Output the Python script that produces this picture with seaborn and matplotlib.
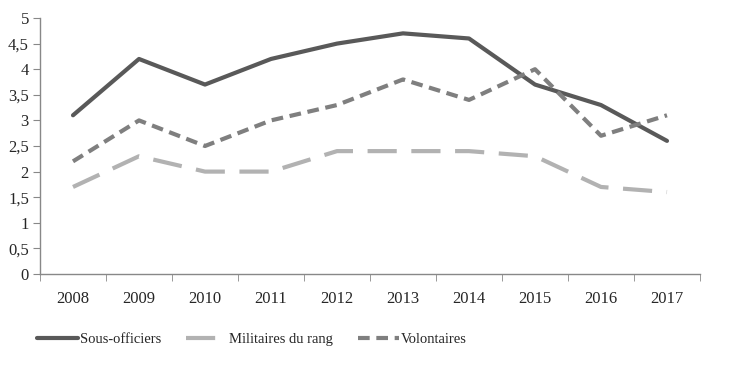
import seaborn as sns
import matplotlib.pyplot as plt
import pandas as pd
from matplotlib.ticker import FuncFormatter

years = ['2008', '2009', '2010', '2011', '2012', '2013', '2014', '2015', '2016', '2017']
sous_officiers = [3.1, 4.2, 3.7, 4.2, 4.5, 4.7, 4.6, 3.7, 3.3, 2.6]
militaires_rang = [1.7, 2.3, 2.0, 2.0, 2.4, 2.4, 2.4, 2.3, 1.7, 1.6]
volontaires = [2.2, 3.0, 2.5, 3.0, 3.3, 3.8, 3.4, 4.0, 2.7, 3.1]
series = ['Sous-officiers', 'Militaires du rang', 'Volontaires']

df = pd.DataFrame({
    'annee': years * 3,
    'valeur': sous_officiers + militaires_rang + volontaires,
    'serie': [series[0]] * 10 + [series[1]] * 10 + [series[2]] * 10,
})
df['x'] = df['annee'].map({y: i for i, y in enumerate(years)})

sns.set_style('white')
plt.rcParams['font.family'] = ['Liberation Serif', 'DejaVu Serif']

fig = plt.figure(figsize=(7.3, 3.68), dpi=100)
ax = fig.add_axes([40 / 730, 1 - 274 / 368, 660 / 730, 256 / 368])

palette = {series[0]: '#595959', series[1]: '#b2b2b2', series[2]: '#7f7f7f'}
dashes = {series[0]: '', series[1]: (7, 3.5), series[2]: (2.8, 1.6)}
sns.lineplot(data=df, x='x', y='valeur', hue='serie', style='serie',
             palette=palette, dashes=dashes, linewidth=3, ax=ax,
             legend=True)
for line in ax.get_lines():
    line.set_solid_capstyle('round')
    line.set_dash_capstyle('butt')

ax.set_xlim(-0.5, 9.5)
ax.set_ylim(0, 5)
ax.set_yticks([i * 0.5 for i in range(11)])
ax.yaxis.set_major_formatter(FuncFormatter(lambda v, p: ('%g' % v).replace('.', ',')))
ax.set_xticks(range(10))
ax.set_xticklabels(years)
ax.set_xticks([i - 0.5 for i in range(11)], minor=True)
ax.tick_params(axis='x', which='major', length=0, pad=12, labelsize=12)
ax.tick_params(axis='x', which='minor', length=5, color='#888888', direction='out', bottom=True)
ax.tick_params(axis='y', length=5, color='#888888', labelsize=12, pad=3, direction='out', left=True)
for s in ['top', 'right']:
    ax.spines[s].set_visible(False)
for s in ['left', 'bottom']:
    ax.spines[s].set_color('#888888')
    ax.spines[s].set_linewidth(1)
ax.set_xlabel('')
ax.set_ylabel('')

handles, labels = ax.get_legend_handles_labels()
ax.legend(handles, labels, loc='center', bbox_to_anchor=(252 / 730, 1 - 339 / 368),
          bbox_transform=fig.transFigure,
          ncol=3, frameon=False, fontsize=10.5, handlelength=2.8, handletextpad=0.15,
          columnspacing=1.7)

fig.savefig('out.png', dpi=100)
